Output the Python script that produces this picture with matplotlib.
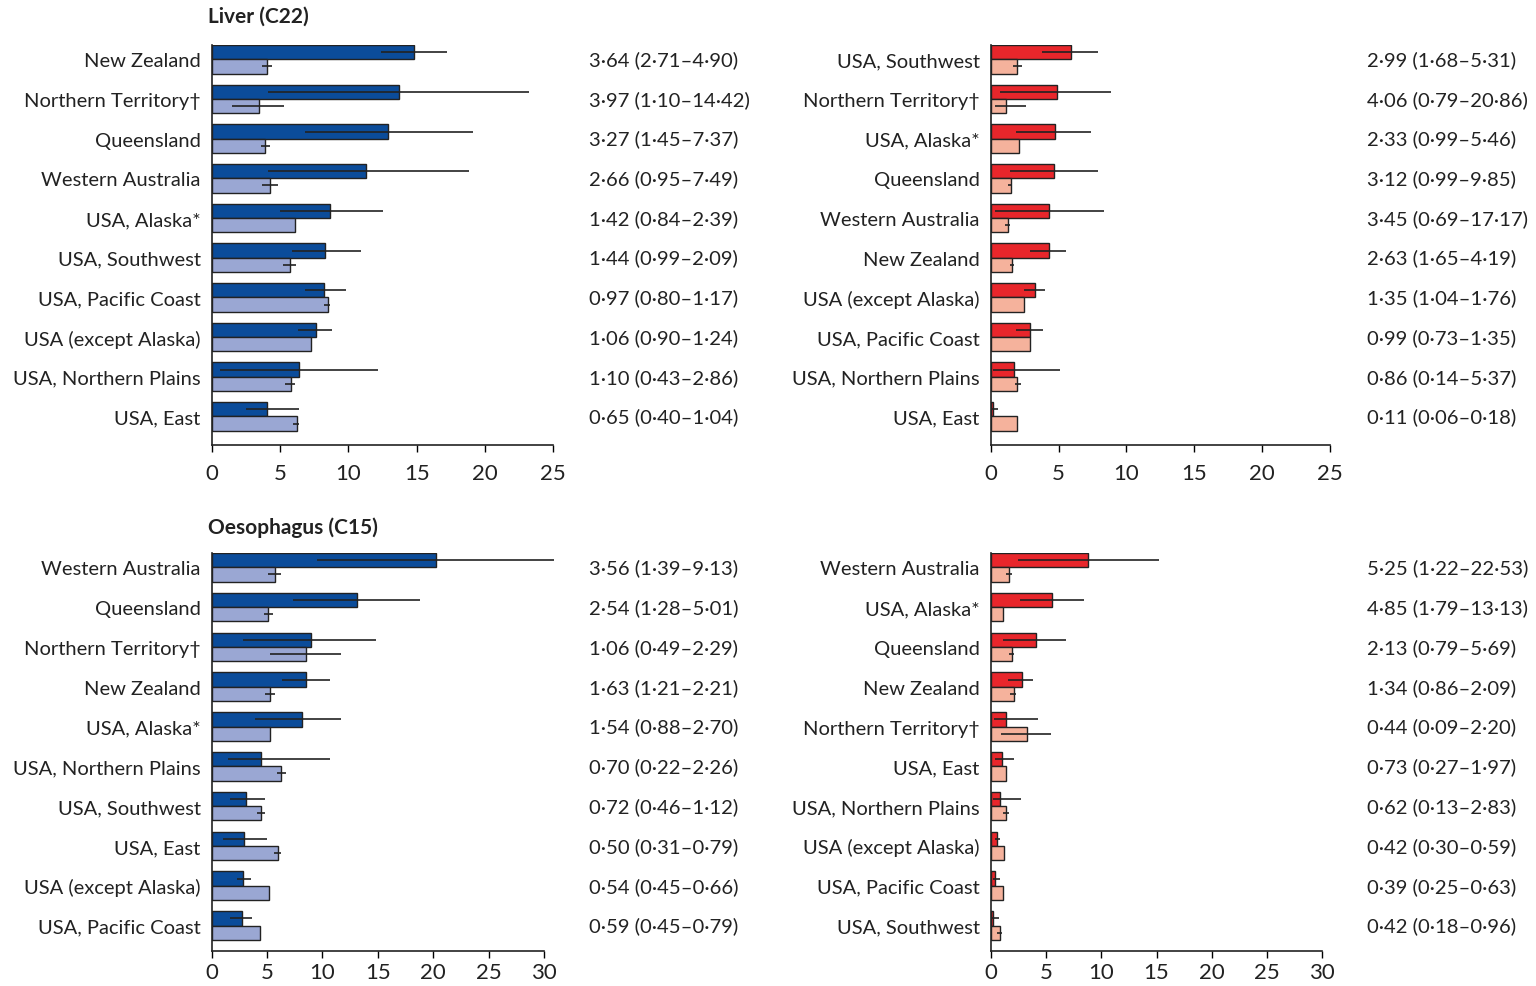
import matplotlib
matplotlib.use("Agg")
import matplotlib.pyplot as plt
import matplotlib.transforms as mtransforms
import numpy as np

plt.rcParams['font.family'] = ['Lato', 'DejaVu Sans']

# ---- Liver (C22), rates by region ----
liver_left_regions = ["New Zealand", "Northern Territory\u2020", "Queensland", "Western Australia",
                      "USA, Alaska*", "USA, Southwest", "USA, Pacific Coast", "USA (except Alaska)",
                      "USA, Northern Plains", "USA, East"]
liver_left_ind = [14.8, 13.7, 12.9, 11.3, 8.66, 8.3, 8.22, 7.63, 6.37, 4.05]
liver_left_ind_lo = [12.4, 4.1, 6.8, 4.1, 5.0, 5.9, 6.8, 6.34, 0.6, 2.5]
liver_left_ind_hi = [17.2, 23.2, 19.1, 18.8, 12.5, 10.9, 9.83, 8.8, 12.15, 6.37]
liver_left_non = [4.05, 3.46, 3.9, 4.25, 6.1, 5.76, 8.54, 7.27, 5.78, 6.24]
liver_left_non_lo = [3.7, 1.5, 3.6, 3.7, 6.1, 5.24, 8.2, 7.27, 5.37, 5.95]
liver_left_non_hi = [4.4, 5.3, 4.3, 4.85, 6.1, 6.2, 8.66, 7.27, 6.1, 6.37]
liver_left_ratio = ["3\u00b764 (2\u00b771\u20134\u00b790)", "3\u00b797 (1\u00b710\u201314\u00b742)",
                    "3\u00b727 (1\u00b745\u20137\u00b737)", "2\u00b766 (0\u00b795\u20137\u00b749)",
                    "1\u00b742 (0\u00b784\u20132\u00b739)", "1\u00b744 (0\u00b799\u20132\u00b709)",
                    "0\u00b797 (0\u00b780\u20131\u00b717)", "1\u00b706 (0\u00b790\u20131\u00b724)",
                    "1\u00b710 (0\u00b743\u20132\u00b786)", "0\u00b765 (0\u00b740\u20131\u00b704)"]

liver_right_regions = ["USA, Southwest", "Northern Territory\u2020", "USA, Alaska*", "Queensland",
                       "Western Australia", "New Zealand", "USA (except Alaska)", "USA, Pacific Coast",
                       "USA, Northern Plains", "USA, East"]
liver_right_ind = [5.9, 4.86, 4.76, 4.64, 4.3, 4.27, 3.27, 2.9, 1.74, 0.19]
liver_right_ind_lo = [3.76, 0.69, 1.9, 1.42, 0.32, 2.9, 2.48, 1.87, 0.2, 0.1]
liver_right_ind_hi = [7.88, 8.84, 7.39, 7.88, 8.35, 5.55, 4.0, 3.83, 5.1, 0.56]
liver_right_non = [1.96, 1.13, 2.06, 1.47, 1.25, 1.6, 2.43, 2.87, 1.96, 1.96]
liver_right_non_lo = [1.67, 0.3, 2.06, 1.28, 1.06, 1.4, 2.43, 2.87, 1.8, 1.96]
liver_right_non_hi = [2.28, 2.58, 2.06, 1.57, 1.4, 1.7, 2.43, 2.87, 2.2, 1.96]
liver_right_ratio = ["2\u00b799 (1\u00b768\u20135\u00b731)", "4\u00b706 (0\u00b779\u201320\u00b786)",
                     "2\u00b733 (0\u00b799\u20135\u00b746)", "3\u00b712 (0\u00b799\u20139\u00b785)",
                     "3\u00b745 (0\u00b769\u201317\u00b717)", "2\u00b763 (1\u00b765\u20134\u00b719)",
                     "1\u00b735 (1\u00b704\u20131\u00b776)", "0\u00b799 (0\u00b773\u20131\u00b735)",
                     "0\u00b786 (0\u00b714\u20135\u00b737)", "0\u00b711 (0\u00b706\u20130\u00b718)"]

# ---- Oesophagus (C15) ----
oes_left_regions = ["Western Australia", "Queensland", "Northern Territory\u2020", "New Zealand",
                    "USA, Alaska*", "USA, Northern Plains", "USA, Southwest", "USA, East",
                    "USA (except Alaska)", "USA, Pacific Coast"]
oes_left_ind = [20.25, 13.1, 8.93, 8.51, 8.12, 4.42, 3.1, 2.94, 2.8, 2.7]
oes_left_ind_lo = [9.5, 7.37, 2.86, 6.32, 3.9, 1.5, 1.65, 1.05, 2.3, 1.65]
oes_left_ind_hi = [30.9, 18.8, 14.83, 10.68, 11.67, 10.68, 4.84, 4.96, 3.55, 3.6]
oes_left_non = [5.69, 5.1, 8.51, 5.23, 5.23, 6.23, 4.42, 5.96, 5.2, 4.36]
oes_left_non_lo = [5.1, 4.72, 5.26, 4.84, 5.23, 5.86, 4.06, 5.62, 5.2, 4.36]
oes_left_non_hi = [6.26, 5.56, 11.67, 5.71, 5.23, 6.7, 4.84, 6.26, 5.2, 4.36]
oes_left_ratio = ["3\u00b756 (1\u00b739\u20139\u00b713)", "2\u00b754 (1\u00b728\u20135\u00b701)",
                  "1\u00b706 (0\u00b749\u20132\u00b729)", "1\u00b763 (1\u00b721\u20132\u00b721)",
                  "1\u00b754 (0\u00b788\u20132\u00b770)", "0\u00b770 (0\u00b722\u20132\u00b726)",
                  "0\u00b772 (0\u00b746\u20131\u00b712)", "0\u00b750 (0\u00b731\u20130\u00b779)",
                  "0\u00b754 (0\u00b745\u20130\u00b766)", "0\u00b759 (0\u00b745\u20130\u00b779)"]

oes_right_regions = ["Western Australia", "USA, Alaska*", "Queensland", "New Zealand",
                     "Northern Territory\u2020", "USA, East", "USA, Northern Plains",
                     "USA (except Alaska)", "USA, Pacific Coast", "USA, Southwest"]
oes_right_ind = [8.8, 5.51, 4.1, 2.8, 1.38, 0.99, 0.84, 0.54, 0.39, 0.24]
oes_right_ind_lo = [2.5, 2.65, 1.14, 1.6, 0.3, 0.4, 0.2, 0.4, 0.2, 0.1]
oes_right_ind_hi = [15.25, 8.44, 6.8, 3.85, 4.3, 2.1, 2.7, 0.84, 0.84, 0.75]
oes_right_non = [1.68, 1.08, 1.95, 2.08, 3.25, 1.38, 1.38, 1.2, 1.08, 0.84]
oes_right_non_lo = [1.37, 1.08, 1.65, 1.75, 0.9, 1.38, 1.15, 1.2, 1.08, 0.54]
oes_right_non_hi = [1.97, 1.08, 2.15, 2.3, 5.45, 1.38, 1.7, 1.2, 1.08, 1.0]
oes_right_ratio = ["5\u00b725 (1\u00b722\u201322\u00b753)", "4\u00b785 (1\u00b779\u201313\u00b713)",
                   "2\u00b713 (0\u00b779\u20135\u00b769)", "1\u00b734 (0\u00b786\u20132\u00b709)",
                   "0\u00b744 (0\u00b709\u20132\u00b720)", "0\u00b773 (0\u00b727\u20131\u00b797)",
                   "0\u00b762 (0\u00b713\u20132\u00b783)", "0\u00b742 (0\u00b730\u20130\u00b759)",
                   "0\u00b739 (0\u00b725\u20130\u00b763)", "0\u00b742 (0\u00b718\u20130\u00b796)"]

BLUE_DARK, BLUE_LIGHT = "#0b4c9a", "#9aa7d3"
RED_DARK, RED_LIGHT = "#e8262b", "#f5b29c"
TEXT = "#222222"
W, H = 1536, 987

fig = plt.figure(figsize=(W / 100, H / 100), dpi=100)


def px_axes(left, right, top, bottom):
    """axes from pixel edges"""
    return fig.add_axes([left / W, 1 - bottom / H, (right - left) / W, (bottom - top) / H])


def panel(ax, regions, ind, ind_lo, ind_hi, non, non_lo, non_hi, ratios,
          dark, light, xmax, ymax, ratio_x, xpad=8):
    n = len(regions)
    y = np.arange(n)
    bh = 0.36
    ax.barh(y + bh / 2, ind, height=bh, color=dark, edgecolor="#222222", linewidth=1.0, zorder=2)
    ax.barh(y + 1.5 * bh, non, height=bh, color=light, edgecolor="#222222", linewidth=1.0, zorder=2)
    ax.hlines(y + bh / 2, ind_lo, ind_hi, color="#222222", linewidth=1.2, zorder=3, clip_on=False)
    ax.hlines(y + 1.5 * bh, non_lo, non_hi, color="#222222", linewidth=1.2, zorder=3, clip_on=False)

    ax.set_xlim(0, xmax)
    ax.set_ylim(ymax, 0)
    ax.set_xticks(np.arange(0, xmax + 1, 5))
    ax.set_yticks(y + bh)
    ax.set_yticklabels(regions, fontsize=14.5, color=TEXT)
    ax.tick_params(axis="y", length=0, pad=8)
    ax.tick_params(axis="x", length=5, width=1.0, labelsize=16, labelcolor=TEXT, pad=xpad)
    for s in ("top", "right"):
        ax.spines[s].set_visible(False)
    for s in ("left", "bottom"):
        ax.spines[s].set_linewidth(1.2)
        ax.spines[s].set_color("#222222")

    trans = mtransforms.blended_transform_factory(fig.transFigure, ax.transData)
    for yi, txt in zip(y + bh, ratios):
        ax.text(ratio_x / W, yi, txt, transform=trans, ha="left", va="center",
                fontsize=14.6, color=TEXT)


ax1 = px_axes(211.7, 553.3, 46, 446)
panel(ax1, liver_left_regions, liver_left_ind, liver_left_ind_lo, liver_left_ind_hi,
      liver_left_non, liver_left_non_lo, liver_left_non_hi, liver_left_ratio,
      BLUE_DARK, BLUE_LIGHT, 25, 10.08, 589)

ax2 = px_axes(990.7, 1330, 46, 446)
panel(ax2, liver_right_regions, liver_right_ind, liver_right_ind_lo, liver_right_ind_hi,
      liver_right_non, liver_right_non_lo, liver_right_non_hi, liver_right_ratio,
      RED_DARK, RED_LIGHT, 25, 10.08, 1367)

ax3 = px_axes(211.7, 544, 554, 952)
panel(ax3, oes_left_regions, oes_left_ind, oes_left_ind_lo, oes_left_ind_hi,
      oes_left_non, oes_left_non_lo, oes_left_non_hi, oes_left_ratio,
      BLUE_DARK, BLUE_LIGHT, 30, 10.0, 589, xpad=3)

ax4 = px_axes(990.7, 1322.3, 554, 952)
panel(ax4, oes_right_regions, oes_right_ind, oes_right_ind_lo, oes_right_ind_hi,
      oes_right_non, oes_right_non_lo, oes_right_non_hi, oes_right_ratio,
      RED_DARK, RED_LIGHT, 30, 10.0, 1367, xpad=3)

fig.text(208 / W, 1 - 17 / H, "Liver (C22)", fontsize=15, fontweight="bold",
         color=TEXT, ha="left", va="center")
fig.text(208 / W, 1 - 528 / H, "Oesophagus (C15)", fontsize=15, fontweight="bold",
         color=TEXT, ha="left", va="center")

fig.savefig("out.png", dpi=100)
